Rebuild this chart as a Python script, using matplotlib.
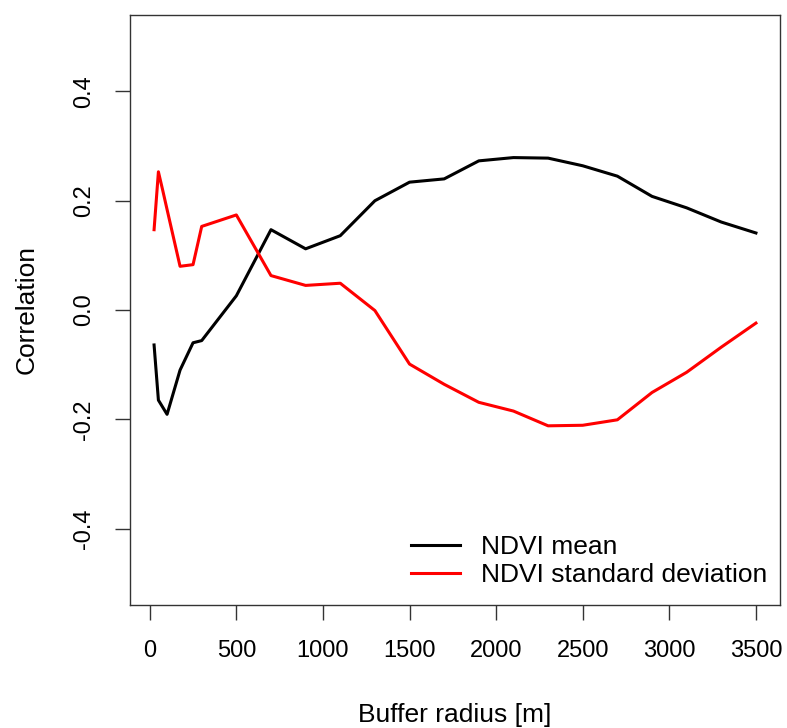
import matplotlib
matplotlib.use('Agg')
import matplotlib.pyplot as plt

plt.rcParams['font.family'] = ['Liberation Sans', 'DejaVu Sans']

# buffer radius [m] and correlation values
radius = [25, 50, 75, 100, 175, 250, 300, 500, 700, 900, 1100, 1300, 1500,
          1700, 1900, 2100, 2300, 2500, 2700, 2900, 3100, 3300, 3500]
ndvi_mean = [-0.064, -0.165, -0.178, -0.191, -0.110, -0.060, -0.056, 0.026,
             0.147, 0.112, 0.136, 0.200, 0.234, 0.240, 0.273, 0.279, 0.278,
             0.264, 0.245, 0.208, 0.187, 0.161, 0.141]
ndvi_sd = [0.147, 0.253, 0.219, 0.184, 0.080, 0.083, 0.153, 0.174, 0.063,
           0.045, 0.049, -0.001, -0.099, -0.136, -0.169, -0.185, -0.212,
           -0.211, -0.201, -0.151, -0.114, -0.068, -0.024]

xticks = [0, 500, 1000, 1500, 2000, 2500, 3000, 3500]
yticks = [-0.4, -0.2, 0.0, 0.2, 0.4]

fs = 17      # tick labels
fs_lab = 19  # axis titles and legend

fig = plt.figure(figsize=(7.87, 7.28), dpi=100)
ax = fig.add_axes([130 / 787, 1 - 605 / 728, 650 / 787, 590 / 728])

ax.plot(radius, ndvi_mean, color='black', lw=2.2, label='NDVI mean')
ax.plot(radius, ndvi_sd, color='red', lw=2.2, label='NDVI standard deviation')

# R style 4% padding
xr = radius[-1] - radius[0]
ax.set_xlim(radius[0] - 0.04 * xr, radius[-1] + 0.04 * xr)
ax.set_ylim(-0.54, 0.54)

ax.set_xticks(xticks)
ax.set_xticklabels([str(t) for t in xticks])
ax.set_yticks(yticks)
ax.set_yticklabels(['%.1f' % t for t in yticks], rotation=90, va='center')
ax.tick_params(length=11, width=1, color='#333333', labelsize=fs, pad=14)
for s in ax.spines.values():
    s.set_color('#333333')
    s.set_linewidth(1)

ax.set_xlabel('Buffer radius [m]', fontsize=fs_lab, labelpad=30)
ax.set_ylabel('Correlation', fontsize=fs_lab, labelpad=25)

ax.legend(loc='lower right', bbox_to_anchor=(0.98, 0.03), frameon=False,
          fontsize=fs_lab, handlelength=1.86, handletextpad=0.8,
          labelspacing=0.15, borderpad=0, borderaxespad=0)

fig.savefig('out.png', dpi=100)
